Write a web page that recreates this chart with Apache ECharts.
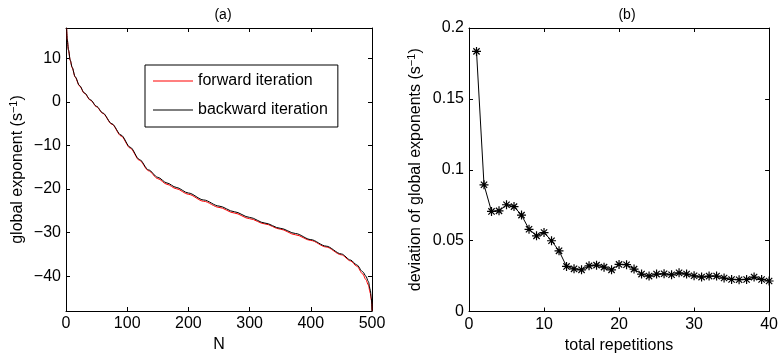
<!DOCTYPE html>
<html><head><meta charset="utf-8">
<script src="https://cdn.jsdelivr.net/npm/echarts@6/dist/echarts.min.js"></script>
<style>html,body{margin:0;padding:0;background:#fff}#c{width:781px;height:359px}</style>
</head><body><div id="c"></div>
<script>
// Panel (a)
const nValues = [1, 2, 4, 7, 10, 15, 22, 30, 40, 50, 60, 75, 90, 105, 120, 135, 150, 165, 180, 200, 225, 250, 275, 300, 325, 350, 375, 400, 425, 450, 465, 475, 485, 490, 494, 497, 499, 500];
const forwardValues = [17, 14.4, 11.9, 9.5, 7.9, 5.7, 3.7, 2.0, 0.4, -1.1, -2.6, -5.1, -7.8, -10.6, -13.4, -15.8, -17.6, -18.9, -19.9, -21.2, -22.8, -24.2, -25.5, -26.8, -28.0, -29.2, -30.5, -31.8, -33.3, -35.1, -36.5, -37.7, -39.5, -40.8, -42.0, -43.8, -45.5, -48];
const backwardValues = [17, 14.5, 12, 9.6, 8, 5.8, 3.8, 2.1, 0.5, -1.0, -2.5, -5.0, -7.6, -10.4, -13.2, -15.6, -17.3, -18.6, -19.6, -20.9, -22.5, -23.9, -25.2, -26.5, -27.8, -29.0, -30.2, -31.6, -33.1, -34.9, -36.3, -37.4, -39.0, -40.0, -41.2, -43.0, -45.0, -48];
const aXTicks = [0, 100, 200, 300, 400, 500];
const aYTicks = [-40, -30, -20, -10, 0, 10];
// Panel (b)
const repetitions = [1, 2, 3, 4, 5, 6, 7, 8, 9, 10, 11, 12, 13, 14, 15, 16, 17, 18, 19, 20, 21, 22, 23, 24, 25, 26, 27, 28, 29, 30, 31, 32, 33, 34, 35, 36, 37, 38, 39, 40];
const deviationValues = [0.1835, 0.0894, 0.0706, 0.071, 0.0753, 0.074, 0.068, 0.058, 0.0534, 0.0557, 0.0499, 0.0428, 0.0318, 0.0301, 0.0294, 0.0322, 0.0327, 0.0313, 0.0294, 0.0332, 0.033, 0.0299, 0.0264, 0.025, 0.0264, 0.0266, 0.0259, 0.0273, 0.0264, 0.0252, 0.0243, 0.025, 0.025, 0.0236, 0.0226, 0.0224, 0.0226, 0.0243, 0.0226, 0.0215];
const bXTicks = [0, 10, 20, 30, 40];
const bYTicks = [0, 0.05, 0.1, 0.15, 0.2];

const FONT = "'Liberation Sans', Arial, sans-serif";
const txt = {color: '#000', fontFamily: FONT, fontSize: 16};
const nameStyle = Object.assign({}, txt, {
  rich: {
    n: {color: '#000', fontFamily: FONT, fontSize: 16, lineHeight: 20},
    sup: {color: '#000', fontFamily: FONT, fontSize: 11, lineHeight: 20, verticalAlign: 'top', padding: [0, 0, 7, 0]}
  }
});
const minus = v => String(v).replace('-', '\u2212');

function axis(opts, ticks, showLabel, pos) {
  return Object.assign({
    type: 'value', position: pos,
    axisLine: {show: true, onZero: false, lineStyle: {color: '#000', width: 1}},
    axisTick: {show: true, inside: true, length: 4, customValues: ticks, lineStyle: {color: '#000'}},
    axisLabel: {show: showLabel, customValues: ticks, color: '#000', fontFamily: FONT, fontSize: 16, margin: 5, formatter: minus},
    splitLine: {show: false}
  }, opts);
}

const chart = echarts.init(document.getElementById('c'), null, {renderer: 'canvas'});
chart.setOption({
  animation: false,
  backgroundColor: '#fff',
  title: [
    {text: '(a)', left: 218, top: 3, textAlign: 'center', textStyle: Object.assign({}, txt, {fontWeight: 'normal', fontSize: 14})},
    {text: '(b)', left: 622, top: 3, textAlign: 'center', textStyle: Object.assign({}, txt, {fontWeight: 'normal', fontSize: 14})}
  ],
  grid: [
    {left: 66, top: 28, width: 306, height: 283},
    {left: 469, top: 28, width: 308, height: 283.5}
  ],
  xAxis: [
    axis({gridIndex: 0, min: 0, max: 500, name: 'N', nameLocation: 'middle', nameGap: 22, nameTextStyle: txt}, aXTicks, true, 'bottom'),
    axis({gridIndex: 0, min: 0, max: 500}, aXTicks, false, 'top'),
    axis({gridIndex: 1, min: 0, max: 40, name: 'total repetitions', nameLocation: 'middle', nameGap: 22, nameTextStyle: txt}, bXTicks, true, 'bottom'),
    axis({gridIndex: 1, min: 0, max: 40}, bXTicks, false, 'top')
  ],
  yAxis: [
    axis({gridIndex: 0, min: -48, max: 17, name: '{n|global exponent (s}{sup|\u22121}{n|)}', nameLocation: 'middle', nameGap: 38, nameTextStyle: nameStyle}, aYTicks, true, 'left'),
    axis({gridIndex: 0, min: -48, max: 17}, aYTicks, false, 'right'),
    axis({gridIndex: 1, min: 0, max: 0.2, name: '{n|deviation of global exponents (s}{sup|\u22121}{n|)}', nameLocation: 'middle', nameGap: 43, nameTextStyle: nameStyle}, bYTicks, true, 'left'),
    axis({gridIndex: 1, min: 0, max: 0.2}, bYTicks, false, 'right')
  ],
  legend: {
    orient: 'vertical', left: 145, top: 65,
    padding: [8, 10, 9, 8], itemGap: 13, itemWidth: 40, itemHeight: 1,
    icon: 'rect',
    borderColor: '#000', borderWidth: 1, backgroundColor: '#fff',
    textStyle: Object.assign({}, txt, {lineHeight: 14}),
    data: ['forward iteration', 'backward iteration']
  },
  series: [
    {name: 'forward iteration', type: 'line', xAxisIndex: 0, yAxisIndex: 0, symbol: 'none', smooth: 0.3, smoothMonotone: 'x',
     lineStyle: {color: '#ff0000', width: 1}, itemStyle: {color: '#ff0000'},
     data: nValues.map((n, i) => [n, forwardValues[i]])},
    {name: 'backward iteration', type: 'line', xAxisIndex: 0, yAxisIndex: 0, symbol: 'none', smooth: 0.3, smoothMonotone: 'x',
     lineStyle: {color: '#000', width: 1}, itemStyle: {color: '#000'},
     data: nValues.map((n, i) => [n, backwardValues[i]])},
    {name: 'deviation', type: 'line', xAxisIndex: 2, yAxisIndex: 2, clip: false,
     symbol: 'path://M5,0 L5,10 M0,5 L10,5 M1.5,1.5 L8.5,8.5 M8.5,1.5 L1.5,8.5', symbolSize: 9,
     lineStyle: {color: '#000', width: 1},
     itemStyle: {color: 'rgba(0,0,0,0)', borderColor: '#000', borderWidth: 1.2},
     data: repetitions.map((r, i) => [r, deviationValues[i]])}
  ]
});
</script></body></html>
